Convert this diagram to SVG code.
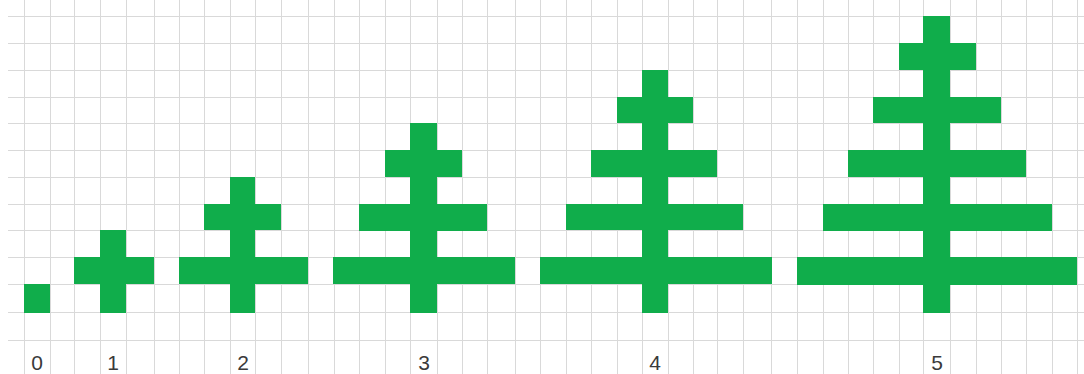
<svg xmlns="http://www.w3.org/2000/svg" width="1084" height="374" viewBox="0 0 1084 374">
<style>
.g{stroke:#d9d9d9;stroke-width:1;fill:none}
.t{fill:#10ad4b}
.lbl{font-family:"Liberation Sans",Arial,sans-serif;font-size:21px;fill:#3a3a3a;text-anchor:middle}
</style>
<rect x="0" y="0" width="1084" height="374" fill="#ffffff"/>
<g id="grid" class="g">
<path d="M24.5 0V374M50.5 0V374M74.5 0V374M100.5 0V374M126.5 0V374M154.5 0V374M179.5 0V374M204.5 0V374M230.5 0V374M255.5 0V374M281.5 0V374M308.5 0V374M334.5 0V374M359.5 0V374M385.5 0V374M410.5 0V374M437.5 0V374M462.5 0V374M487.5 0V374M515.5 0V374M540.5 0V374M566.5 0V374M591.5 0V374M617.5 0V374M642.5 0V374M668.5 0V374M693.5 0V374M717.5 0V374M743.5 0V374M771.5 0V374M797.5 0V374M823.5 0V374M848.5 0V374M873.5 0V374M899.5 0V374M923.5 0V374M950.5 0V374M976.5 0V374M1001.5 0V374M1026.5 0V374M1052.5 0V374M1077.5 0V374"/>
<path d="M8 16.5H1084M8 43.5H1084M8 70.5H1084M8 97.5H1084M8 123.5H1084M8 150.5H1084M8 177.5H1084M8 204.5H1084M8 230.5H1084M8 257.5H1084M8 284.5H1084M8 312.5H1084M8 340.5H1084"/>
</g>
<g id="tree0" class="t">
<rect x="24" y="284" width="26" height="29"/>
</g>
<g id="tree1" class="t">
<rect x="100" y="230" width="26" height="83"/>
<rect x="74" y="257" width="80" height="27"/>
</g>
<g id="tree2" class="t">
<rect x="230" y="177" width="25" height="136"/>
<rect x="204" y="204" width="77" height="26"/>
<rect x="179" y="257" width="129" height="27"/>
</g>
<g id="tree3" class="t">
<rect x="410" y="123" width="27" height="190"/>
<rect x="385" y="150" width="77" height="27"/>
<rect x="359" y="204" width="128" height="27"/>
<rect x="333" y="257" width="182" height="27"/>
</g>
<g id="tree4" class="t">
<rect x="642" y="70" width="26" height="243"/>
<rect x="617" y="97" width="76" height="26"/>
<rect x="591" y="150" width="126" height="27"/>
<rect x="566" y="204" width="177" height="26"/>
<rect x="540" y="257" width="232" height="27"/>
</g>
<g id="tree5" class="t">
<rect x="923" y="16" width="27" height="297"/>
<rect x="899" y="43" width="77" height="27"/>
<rect x="873" y="97" width="128" height="26"/>
<rect x="848" y="150" width="178" height="27"/>
<rect x="823" y="204" width="229" height="27"/>
<rect x="797" y="257" width="280" height="28"/>
</g>
<g id="labels">
<text class="lbl" x="37" y="370">0</text>
<text class="lbl" x="113" y="370">1</text>
<text class="lbl" x="243" y="370">2</text>
<text class="lbl" x="424" y="370">3</text>
<text class="lbl" x="655" y="370">4</text>
<text class="lbl" x="937" y="370">5</text>
</g>
</svg>
